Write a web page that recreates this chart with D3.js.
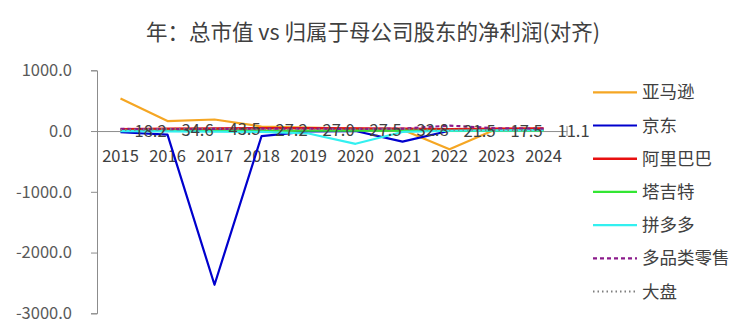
<!DOCTYPE html>
<html>
<head>
<meta charset="utf-8">
<script src="https://cdn.jsdelivr.net/npm/d3@7"></script>
<style>
  body { margin: 0; background: #fff; }
  svg { display: block; font-family: "Noto Sans CJK SC", "Noto Sans", sans-serif; }
</style>
</head>
<body>
<svg id="chart" width="750" height="333"></svg>
<script>
// categories and series values
var years = ["2015", "2016", "2017", "2018", "2019", "2020", "2021", "2022", "2023", "2024"];
var amazon = [535, 165, 190, 75, 55, 40, 20, -300, 35, 40];
var jd = [-20, -60, -2530, -85, -5, 0, -175, 5, 15, 25];
var alibaba = [30, 35, 40, 45, 45, 40, 35, 30, 35, 40];
var target = [4, 5, 4, 5, 5, 7, 6, 4, 5, 6];
var pdd = [-2, -5, -10, -15, -40, -210, -15, 5, 10, 15];
var multi = [35, 30, 35, 40, 40, 35, 40, 90, 45, 40];
var market = [18.2, 34.6, 43.5, 27.2, 27.0, 27.5, 32.8, 21.5, 17.5, 11.1];
var yTicks = [1000, 0, -1000, -2000, -3000];

var series = [
  {name: "亚马逊", values: amazon, color: "#F5A623", dash: null, w: 2.2},
  {name: "京东", values: jd, color: "#0000CD", dash: null, w: 2.2},
  {name: "阿里巴巴", values: alibaba, color: "#E81010", dash: null, w: 2.6},
  {name: "塔吉特", values: target, color: "#33E633", dash: null, w: 2.2},
  {name: "拼多多", values: pdd, color: "#33F0F0", dash: null, w: 2.2},
  {name: "多品类零售", values: multi, color: "#8B1A8B", dash: "4,3", w: 2.2},
  {name: "大盘", values: market, color: "#7F7F7F", dash: "1.5,3", w: 2}
];

var svg = d3.select("#chart");
var textColor = "#404040";
var axisColor = "#8C8C8C";

var x = d3.scaleBand().domain(years).range([97, 567]);
var y = d3.scaleLinear().domain([-3000, 1000]).range([313.3, 70.3]);

// title
svg.append("text")
    .attr("x", 373)
    .attr("y", 40)
    .attr("text-anchor", "middle")
    .attr("font-size", 21.5)
    .attr("fill", textColor)
    .text("年：总市值 vs 归属于母公司股东的净利润(对齐)");

// y axis
var yAxis = svg.append("g")
    .attr("transform", "translate(97,0)")
    .call(d3.axisLeft(y).tickValues(yTicks).tickSize(6).tickPadding(19)
      .tickFormat(function(d) { return d3.format(".1f")(d).replace("−", "-"); }));
yAxis.select(".domain").attr("stroke", axisColor);
yAxis.selectAll(".tick line").attr("stroke", axisColor);
yAxis.selectAll("text").attr("fill", "#595959").attr("font-size", 16.5)
    .attr("font-family", "\"Noto Sans CJK SC\", sans-serif");

// x axis at zero
var xAxis = svg.append("g")
    .attr("transform", "translate(0," + y(0) + ")")
    .call(d3.axisBottom(x).tickSizeInner(0).tickSizeOuter(0).tickPadding(19));
xAxis.select(".domain").attr("stroke", axisColor);
xAxis.selectAll("text").attr("fill", textColor).attr("font-size", 16.5)
    .attr("font-family", "\"Noto Sans CJK SC\", sans-serif");
xAxis.append("line")
    .attr("x1", 567).attr("x2", 567).attr("y1", -5).attr("y2", 5)
    .attr("stroke", axisColor);

// lines
var line = d3.line()
    .x(function(d, i) { return x(years[i]) + x.bandwidth() / 2; })
    .y(function(d) { return y(d); });

series.forEach(function(s) {
  svg.append("path")
      .datum(s.values)
      .attr("fill", "none")
      .attr("stroke", s.color)
      .attr("stroke-width", s.w)
      .attr("stroke-dasharray", s.dash)
      .attr("stroke-linejoin", "round")
      .attr("d", line);
});

// data labels of 大盘
svg.append("g").selectAll("text")
  .data(market)
  .enter().append("text")
    .attr("x", function(d, i) { return x(years[i]) + x.bandwidth() / 2 + 14; })
    .attr("y", function(d) { return y(d) + 7; })
    .attr("font-size", 16.5)
    .attr("fill", textColor)
    .text(function(d) { return d.toFixed(1); });

// legend
var legend = svg.append("g").selectAll("g")
  .data(series)
  .enter().append("g")
    .attr("transform", function(d, i) { return "translate(593," + (92.3 + i * 33.2) + ")"; });

legend.append("line")
    .attr("x1", 0).attr("x2", 44)
    .attr("stroke", function(d) { return d.color; })
    .attr("stroke-width", function(d) { return d.w; })
    .attr("stroke-dasharray", function(d) { return d.dash; });

legend.append("text")
    .attr("x", 49)
    .attr("y", 6)
    .attr("font-size", 17.5)
    .attr("fill", textColor)
    .text(function(d) { return d.name; });
</script>
</body>
</html>
